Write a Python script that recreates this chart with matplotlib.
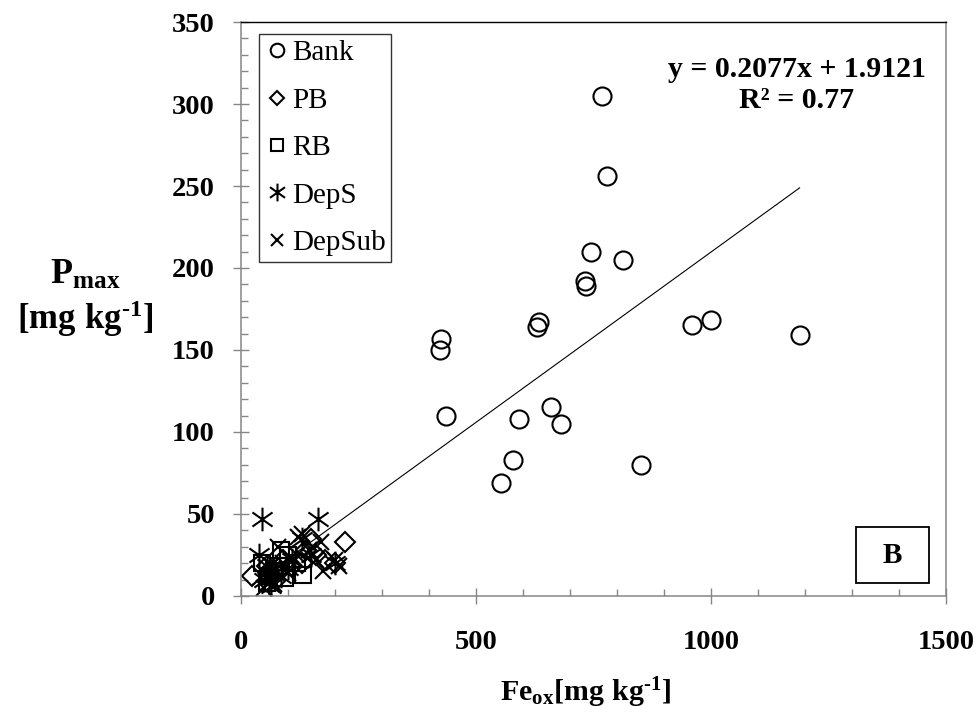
import matplotlib
matplotlib.use("Agg")
import matplotlib.pyplot as plt
from matplotlib.ticker import MultipleLocator
from matplotlib.path import Path
from matplotlib.patches import Rectangle
import numpy as np

plt.rcParams['font.family'] = ['Liberation Serif', 'DejaVu Serif']
plt.rcParams['mathtext.fontset'] = 'custom'
plt.rcParams['mathtext.rm'] = 'Liberation Serif:bold'
plt.rcParams['mathtext.bf'] = 'Liberation Serif:bold'
plt.rcParams['mathtext.it'] = 'Liberation Serif:bold'

# ---- data ----
bank_x = [769, 779, 745, 813, 733, 735, 635, 630, 426, 423, 437, 592, 661, 681, 579, 553, 851, 960, 1001, 1189]
bank_y = [305, 256, 210, 205, 192, 189, 167, 164, 157, 150, 110, 108, 115, 105, 83, 69, 80, 165, 168, 159]

pb_x = [25, 60, 90, 110, 140, 150, 160, 180, 200, 222, 130, 75, 55]
pb_y = [12, 15, 22, 18, 28, 35, 25, 22, 20, 33, 20, 10, 18]

rb_x = [45, 60, 80, 95, 100, 133, 85, 55, 120, 70]
rb_y = [20, 12, 18, 11, 25, 13, 28, 8, 20, 15]

deps_x = [45, 165, 40, 50, 60, 70, 100, 130, 150, 55, 85, 65, 110, 200]
deps_y = [47, 47, 25, 10, 8, 14, 17, 35, 25, 18, 12, 6, 22, 20]

depsub_x = [122, 130, 200, 210, 170, 145, 160, 60, 70, 50, 90, 100, 120, 80, 65, 175]
depsub_y = [36, 38, 22, 18, 33, 28, 22, 12, 7, 5, 20, 14, 25, 30, 18, 15]

slope, intercept = 0.2077, 1.9121
x_ticks = [0, 500, 1000, 1500]
y_ticks = [0, 50, 100, 150, 200, 250, 300, 350]

# asterisk marker: vertical bar + X
ast = Path([(0, -1), (0, 1), (-0.85, -0.6), (0.85, 0.6), (-0.85, 0.6), (0.85, -0.6)],
           [Path.MOVETO, Path.LINETO, Path.MOVETO, Path.LINETO, Path.MOVETO, Path.LINETO])

fig = plt.figure(figsize=(9.8, 7.17), dpi=100)
ax = fig.add_axes([0.2456, 0.1688, 0.7195, 0.8005])

mew = 1.5
ax.plot(bank_x, bank_y, linestyle='none', marker='o', ms=13, mfc='none', mec='black', mew=mew, label='Bank')
ax.plot(pb_x, pb_y, linestyle='none', marker='D', ms=10, mfc='none', mec='black', mew=mew, label='PB')
ax.plot(rb_x, rb_y, linestyle='none', marker='s', ms=12, mfc='none', mec='black', mew=mew, label='RB')
ax.plot(deps_x, deps_y, linestyle='none', marker=ast, ms=17, mfc='none', mec='black', mew=mew, label='DepS')
ax.plot(depsub_x, depsub_y, linestyle='none', marker='x', ms=11, mfc='none', mec='black', mew=mew, label='DepSub')

all_x = bank_x + pb_x + rb_x + deps_x + depsub_x
xs = np.array([min(all_x), max(all_x)])
ax.plot(xs, slope * xs + intercept, color='black', lw=0.8, label='_nolegend_')

ax.set_xlim(0, 1500)
ax.set_ylim(0, 350)
ax.set_xticks(x_ticks)
ax.set_yticks(y_ticks)
ax.xaxis.set_minor_locator(MultipleLocator(100))
ax.yaxis.set_minor_locator(MultipleLocator(10))

grey = '#868686'
for s in ['left', 'bottom', 'right']:
    ax.spines[s].set_color(grey)
    ax.spines[s].set_linewidth(1.1)
ax.spines['top'].set_color('black')
ax.spines['top'].set_linewidth(1.0)

ax.tick_params(which='major', direction='inout', length=11, width=1.0, color=grey,
               labelsize=20.5)
ax.tick_params(which='minor', direction='in', length=5, width=1.0, color=grey)
ax.tick_params(axis='x', which='major', pad=19)
ax.tick_params(axis='y', which='major', pad=13)
for lab in ax.get_xticklabels() + ax.get_yticklabels():
    lab.set_fontweight('bold')

leg = ax.legend(loc='upper left', bbox_to_anchor=(0.026, 0.979), frameon=True, fancybox=False,
                prop={'family': 'Liberation Serif', 'size': 21}, markerscale=0.75,
                handlelength=0.8, handletextpad=0.12, labelspacing=0.72, borderpad=0.2,
                borderaxespad=0.0)
leg.get_frame().set_edgecolor('black')
leg.get_frame().set_linewidth(1.0)

ax.text(0.789, 0.89, 'y = 0.2077x + 1.9121\nR² = 0.77', transform=ax.transAxes,
        ha='center', va='center', fontsize=21.5, fontweight='bold', linespacing=1.2)

ax.add_patch(Rectangle((0.873, 0.0226), 0.103, 0.097, transform=ax.transAxes,
                       fc='white', ec='black', lw=1.3, zorder=5))
ax.text(0.9245, 0.071, 'B', transform=ax.transAxes, ha='center', va='center', fontsize=21,
        fontweight='bold', zorder=6)

fig.text(0.087, 0.616, r'$\mathrm{P_{max}}$', ha='center', va='center', fontsize=26)
fig.text(0.087, 0.556, '$\\mathrm{[mg\\ kg^{\u20101}]}$', ha='center', va='center', fontsize=25)
fig.text(0.597, 0.034, '$\\mathrm{Fe_{ox}[mg\\ kg^{\u20101}]}$', ha='center', va='center', fontsize=21.5)

fig.savefig('out.png', dpi=100)
